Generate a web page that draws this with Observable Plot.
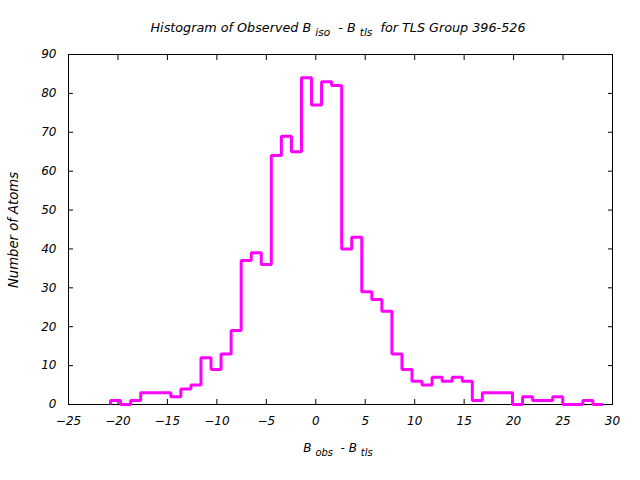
<!DOCTYPE html>
<html><head><meta charset="utf-8">
<script src="https://cdn.jsdelivr.net/npm/d3@7"></script>
<script src="https://cdn.jsdelivr.net/npm/@observablehq/plot@0.6"></script>
<style>body{margin:0;background:#fff}</style>
</head><body><div id="chart"></div>
<script>
// Histogram counts per bin (left to right)
const counts = [1,0,1,3,3,3,2,4,5,12,9,13,19,37,39,36,64,69,65,84,77,83,82,40,43,29,27,24,13,9,6,5,7,6,7,6,1,3,3,3,0,2,1,1,2,0,0,1,0];
const binStart = -20.75;
const binWidth = 1.016;
const xTicks = [-25,-20,-15,-10,-5,0,5,10,15,20,25,30];
const yTicks = [0,10,20,30,40,50,60,70,80,90];
const titleParts = [["Histogram of Observed B ", false], ["iso", true], ["  - B ", false], ["tls", true], ["  for TLS Group 396-526", false]];
const xLabelParts = [["B ", false], ["obs", true], ["  - B ", false], ["tls", true]];
const yLabel = "Number of Atoms";

const pts = [{x: binStart, y: 0}];
counts.forEach((c, i) => pts.push({x: binStart + i * binWidth, y: c}));
pts.push({x: binStart + counts.length * binWidth, y: counts[counts.length - 1]});
pts.push({x: binStart + counts.length * binWidth, y: 0});

const font = "DejaVu Sans";
const chart = Plot.plot({
  width: 640, height: 480,
  marginLeft: 68, marginRight: 28, marginTop: 54, marginBottom: 76,
  style: {fontFamily: font, fontSize: "12px", background: "#fff", color: "#000"},
  x: {domain: [-25, 30]},
  y: {domain: [0, 90]},
  marks: [
    Plot.axisX(xTicks, {anchor: "bottom", tickSize: -5, tickPadding: 17, fontStyle: "italic", label: null}),
    Plot.axisX(xTicks, {anchor: "top", tickSize: -5, tickFormat: () => "", label: null}),
    Plot.axisY(yTicks, {anchor: "left", tickSize: -5, tickPadding: 17, fontStyle: "italic", label: null}),
    Plot.axisY(yTicks, {anchor: "right", tickSize: -5, tickFormat: () => "", label: null}),
    Plot.frame({stroke: "#000"}),
    Plot.line(pts, {x: "x", y: "y", curve: "step-after", stroke: "#ff00ff", strokeWidth: 3, strokeLinejoin: "miter", strokeLinecap: "butt"})
  ]
});
document.getElementById("chart").appendChild(chart);

const svg = d3.select(chart);
function addParts(parts, x, y, size) {
  const t = svg.append("text").attr("x", x).attr("y", y).attr("text-anchor", "middle")
    .attr("font-family", font).attr("font-size", size).attr("font-style", "italic").attr("fill", "#000");
  parts.forEach(([s, sub], i) => {
    const ts = t.append("tspan").text(s).attr("xml:space", "preserve").style("white-space", "pre");
    if (sub) ts.attr("font-size", size * 0.83).attr("dy", 4);
    else ts.attr("dy", i > 0 ? -4 : 0);
  });
  return t;
}
addParts(titleParts, 338, 32, 12.75);
addParts(xLabelParts, 338, 452, 12);
svg.append("text").attr("transform", "translate(18,230) rotate(-90)").attr("text-anchor", "middle")
  .attr("font-family", font).attr("font-size", 13.2).attr("font-style", "italic").attr("fill", "#000").text(yLabel);
</script>
</body></html>
